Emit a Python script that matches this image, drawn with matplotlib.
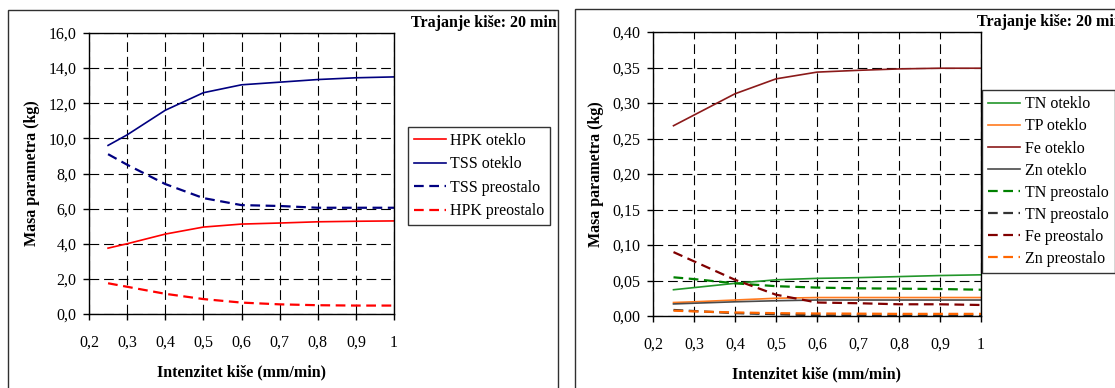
import matplotlib
matplotlib.use('Agg')
import matplotlib.pyplot as plt
from matplotlib.patches import Rectangle
from matplotlib.ticker import FuncFormatter

plt.rcParams['font.family'] = ['Liberation Serif', 'DejaVu Serif']
plt.rcParams['lines.scale_dashes'] = False

# rainfall intensity (mm/min)
x = [0.25, 0.3, 0.4, 0.5, 0.6, 0.7, 0.8, 0.9, 1.0]

# left chart (kg)
hpk_oteklo = [3.75, 4.0, 4.55, 4.95, 5.12, 5.18, 5.25, 5.28, 5.3]
tss_oteklo = [9.6, 10.2, 11.6, 12.6, 13.05, 13.2, 13.35, 13.45, 13.5]
tss_preostalo = [9.1, 8.5, 7.4, 6.6, 6.2, 6.15, 6.05, 6.05, 6.05]
hpk_preostalo = [1.75, 1.55, 1.15, 0.85, 0.65, 0.55, 0.5, 0.48, 0.48]

# right chart (kg)
tn_oteklo = [0.037, 0.040, 0.046, 0.051, 0.053, 0.054, 0.0555, 0.057, 0.058]
tp_oteklo = [0.019, 0.020, 0.0225, 0.025, 0.026, 0.026, 0.026, 0.026, 0.026]
fe_oteklo = [0.268, 0.283, 0.313, 0.334, 0.3435, 0.346, 0.348, 0.349, 0.349]
zn_oteklo = [0.017, 0.018, 0.020, 0.0215, 0.0225, 0.0225, 0.0225, 0.0225, 0.0225]
tn_preostalo = [0.0545, 0.052, 0.046, 0.042, 0.040, 0.039, 0.0385, 0.038, 0.037]
tn2_preostalo = [0.0085, 0.007, 0.004, 0.0025, 0.001, 0.0008, 0.0006, 0.0005, 0.0005]
fe_preostalo = [0.090, 0.077, 0.051, 0.030, 0.019, 0.018, 0.0165, 0.0165, 0.0155]
zn_preostalo = [0.0075, 0.0065, 0.005, 0.004, 0.0035, 0.0033, 0.003, 0.003, 0.003]

xticks = [0.2, 0.3, 0.4, 0.5, 0.6, 0.7, 0.8, 0.9, 1.0]
yticks_left = [0, 2, 4, 6, 8, 10, 12, 14, 16]
yticks_right = [0, 0.05, 0.10, 0.15, 0.20, 0.25, 0.30, 0.35, 0.40]

title = 'Trajanje kiše: 20 min'
xlab = 'Intenzitet kiše (mm/min)'
ylab = 'Masa parametra (kg)'

DASH = (0, (7, 4))
FS = 11.5

fig = plt.figure(figsize=(11.15, 3.88), dpi=100)

# panel frames
fig.patches.append(Rectangle((8/1115, -0.1), (558-8)/1115, 1.1-10/388, transform=fig.transFigure,
                             fill=False, edgecolor='#303030', lw=1.0))
fig.patches.append(Rectangle((575/1115, -0.1), 0.6, 1.1-9/388, transform=fig.transFigure,
                             fill=False, edgecolor='#303030', lw=1.0))


def comma(fmt):
    return FuncFormatter(lambda v, p: (fmt % v).replace('.', ','))


def style(ax, yticks, yfmt):
    ax.set_xlim(0.2, 1.0)
    ax.set_ylim(yticks[0], yticks[-1])
    ax.set_xticks(xticks)
    ax.set_yticks(yticks)
    ax.xaxis.set_major_formatter(FuncFormatter(lambda v, p: ('%g' % round(v, 1)).replace('.', ',')))
    ax.yaxis.set_major_formatter(comma(yfmt))
    ax.tick_params(axis='both', direction='out', length=4, width=1, labelsize=FS)
    ax.tick_params(axis='x', pad=11)
    ax.tick_params(axis='y', pad=5)
    ax.grid(True, color='black', lw=0.8, linestyle=(0, (7, 3.5)))
    ax.set_axisbelow(True)
    for s in ax.spines.values():
        s.set_color('black')
        s.set_linewidth(1.0)
    ax.set_xlabel(xlab, fontsize=FS, fontweight='bold', labelpad=10)
    ax.set_ylabel(ylab, fontsize=FS, fontweight='bold', labelpad=6)


# left chart
ax1 = fig.add_axes([89/1115, 1-314/388, 305/1115, 281/388])
ax1.plot(x, hpk_oteklo, color='#ff0000', lw=1.2, label='HPK oteklo')
ax1.plot(x, tss_oteklo, color='#000080', lw=1.2, label='TSS oteklo')
ax1.plot(x, tss_preostalo, color='#000080', lw=1.6, linestyle=DASH, label='TSS preostalo')
ax1.plot(x, hpk_preostalo, color='#ff0000', lw=1.6, linestyle=DASH, label='HPK preostalo')
style(ax1, yticks_left, '%.1f')
leg1 = ax1.legend(loc='upper left', bbox_to_anchor=(408/1115, 1-127/388), bbox_transform=fig.transFigure,
                  borderaxespad=0, fontsize=FS, frameon=True, fancybox=False, edgecolor='black',
                  handlelength=2.0, handletextpad=0.3, labelspacing=0.47, borderpad=0.35)
leg1.get_frame().set_linewidth(1.0)
fig.text(411/1115, 1-23/388, title, fontsize=FS, fontweight='bold', va='center', ha='left')

# right chart
ax2 = fig.add_axes([653/1115, 1-316/388, 328/1115, 284/388])
ax2.plot(x, tn_oteklo, color='#22962a', lw=1.2, label='TN oteklo')
ax2.plot(x, tp_oteklo, color='#ff7a1f', lw=1.2, label='TP oteklo')
ax2.plot(x, fe_oteklo, color='#8b1a1a', lw=1.2, label='Fe oteklo')
ax2.plot(x, zn_oteklo, color='#4a4a4a', lw=1.2, label='Zn oteklo')
ax2.plot(x, tn_preostalo, color='#008000', lw=1.6, linestyle=DASH, label='TN preostalo')
ax2.plot(x, tn2_preostalo, color='#333333', lw=1.6, linestyle=DASH, label='TN preostalo')
ax2.plot(x, fe_preostalo, color='#800000', lw=1.6, linestyle=DASH, label='Fe preostalo')
ax2.plot(x, zn_preostalo, color='#ff6600', lw=1.6, linestyle=DASH, label='Zn preostalo')
style(ax2, yticks_right, '%.2f')
leg2 = ax2.legend(loc='upper left', bbox_to_anchor=(982/1115, 1-90/388), bbox_transform=fig.transFigure,
                  borderaxespad=0, fontsize=FS, frameon=True, fancybox=False, edgecolor='black',
                  handlelength=2.0, handletextpad=0.3, labelspacing=0.38, borderpad=0.4)
leg2.get_frame().set_linewidth(1.0)
fig.text(977/1115, 1-22/388, title, fontsize=FS, fontweight='bold', va='center', ha='left')

fig.savefig('out.png', dpi=100)
